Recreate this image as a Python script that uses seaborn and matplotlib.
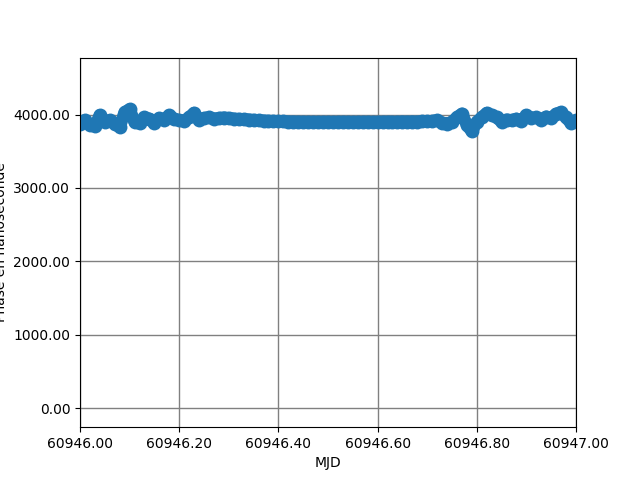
import numpy as np
import pandas as pd
import seaborn as sns
import matplotlib.pyplot as plt
from matplotlib.ticker import FormatStrFormatter

# MJD sampling (one point every 0.01 day)
mjd = [60946.00, 60946.01, 60946.02, 60946.03, 60946.04, 60946.05, 60946.06, 60946.07, 60946.08, 60946.09,
       60946.10, 60946.11, 60946.12, 60946.13, 60946.14, 60946.15, 60946.16, 60946.17, 60946.18, 60946.19,
       60946.20, 60946.21, 60946.22, 60946.23, 60946.24, 60946.25, 60946.26, 60946.27, 60946.28, 60946.29,
       60946.30, 60946.31, 60946.32, 60946.33, 60946.34, 60946.35, 60946.36, 60946.37, 60946.38, 60946.39,
       60946.40, 60946.41, 60946.42, 60946.43, 60946.44, 60946.45, 60946.46, 60946.47, 60946.48, 60946.49,
       60946.50, 60946.51, 60946.52, 60946.53, 60946.54, 60946.55, 60946.56, 60946.57, 60946.58, 60946.59,
       60946.60, 60946.61, 60946.62, 60946.63, 60946.64, 60946.65, 60946.66, 60946.67, 60946.68, 60946.69,
       60946.70, 60946.71, 60946.72, 60946.73, 60946.74, 60946.75, 60946.76, 60946.77, 60946.78, 60946.79,
       60946.80, 60946.81, 60946.82, 60946.83, 60946.84, 60946.85, 60946.86, 60946.87, 60946.88, 60946.89,
       60946.90, 60946.91, 60946.92, 60946.93, 60946.94, 60946.95, 60946.96, 60946.97, 60946.98, 60946.99,
       60947.00]

# phase in nanoseconds
phase = [3870, 3920, 3860, 3840, 3990, 3900, 3920, 3870, 3830, 4030,
         4070, 3900, 3880, 3960, 3940, 3880, 3950, 3930, 3990, 3940,
         3920, 3910, 3960, 4020, 3920, 3950, 3960, 3940, 3950, 3958,
         3950, 3942, 3938, 3935, 3930, 3925, 3920, 3915, 3912, 3910,
         3908, 3905, 3903, 3902, 3900, 3899, 3898, 3898, 3897, 3898,
         3898, 3897, 3898, 3899, 3898, 3897, 3898, 3898, 3899, 3897,
         3898, 3899, 3900, 3898, 3899, 3902, 3900, 3903, 3901, 3905,
         3905, 3910, 3920, 3890, 3870, 3900, 3960, 4010, 3860, 3770,
         3900, 3960, 4020, 3990, 3960, 3900, 3930, 3920, 3940, 3910,
         3990, 3950, 3960, 3930, 3970, 3950, 4010, 4030, 3960, 3880,
         3920]

df = pd.DataFrame({"MJD": mjd, "phase": phase})

fig, ax = plt.subplots(figsize=(6.4, 4.8), dpi=100)
sns.lineplot(data=df, x="MJD", y="phase", ax=ax, color="#1f77b4",
             marker="o", markersize=10, mec="#1f77b4", mew=0, linewidth=9,
             solid_joinstyle="round", solid_capstyle="round")

ax.set_xlim(60946.0, 60947.0)
ax.set_ylim(-258, 4775)
ax.set_xticks([60946.0, 60946.2, 60946.4, 60946.6, 60946.8, 60947.0])
ax.set_yticks([0, 1000, 2000, 3000, 4000])
ax.xaxis.set_major_formatter(FormatStrFormatter("%.2f"))
ax.yaxis.set_major_formatter(FormatStrFormatter("%.2f"))
ax.set_xlabel("MJD")
ax.set_ylabel("Phase en nanoseconde")
ax.grid(True, color="gray", linewidth=1)

fig.savefig("out.png")
